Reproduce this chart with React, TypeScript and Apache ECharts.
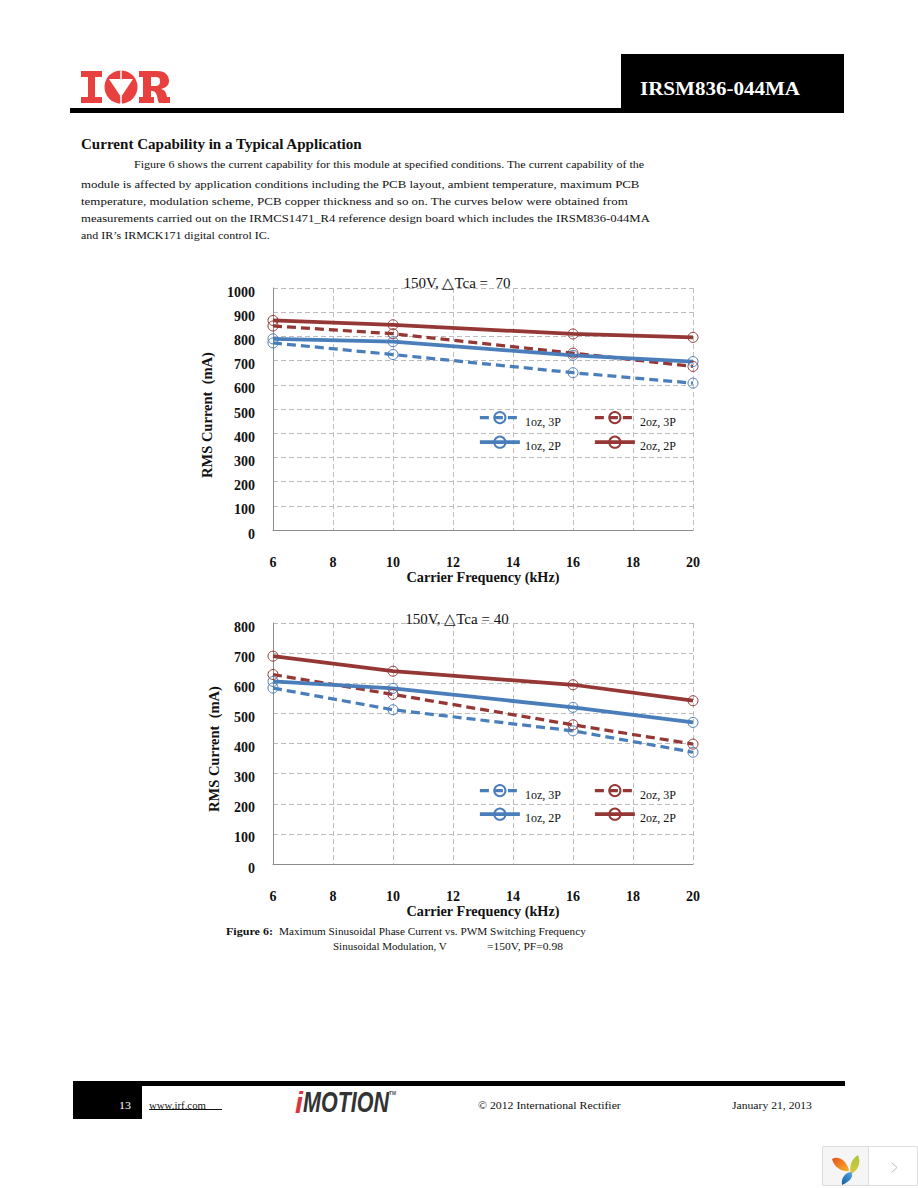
import React, { useEffect, useRef } from "react";
import * as echarts from "echarts";

const frequencies = [6, 10, 16, 20];
const seriesNames = ["1oz, 3P", "2oz, 3P", "1oz, 2P", "2oz, 2P"];

const top1oz3P = [773, 725, 650, 607];
const top2oz3P = [843, 811, 731, 676];
const top1oz2P = [790, 778, 722, 696];
const top2oz2P = [866, 848, 810, 796];

const bot1oz3P = [584, 512, 442, 371];
const bot2oz3P = [629, 563, 462, 398];
const bot1oz2P = [606, 583, 520, 470];
const bot2oz2P = [690, 640, 595, 542];

const topTitle = "150V, \u25B3Tca =  70";
const botTitle = "150V, \u25B3Tca = 40";
const xAxisName = "Carrier Frequency (kHz)";
const yAxisName = "RMS Current  (mA)";

const BLUE = "#4A7EBB";
const RED = "#953735";
const SERIF = '"Liberation Serif", serif';
const SANS = '"Liberation Sans", sans-serif';

type TextSpec = [string, number, number, number, number, boolean?];
// text, left, right, centre y, font size, bold
const pageTexts: TextSpec[] = [
  ["Current Capability in a Typical Application", 81, 363, 144, 14, true],
  ["Figure 6 shows the current capability for this module at specified conditions. The current capability of the", 134, 645, 164, 11],
  ["module is affected by application conditions including the PCB layout, ambient temperature, maximum PCB", 81, 640, 184, 11],
  ["temperature, modulation scheme, PCB copper thickness and so on. The curves below were obtained from", 81, 629, 201, 11],
  ["measurements carried out on the IRMCS1471_R4 reference design board which includes the IRSM836-044MA", 81, 651, 218, 11],
  ["and IR\u2019s IRMCK171 digital control IC.", 81, 270, 235, 11],
  ["Figure 6:", 226, 273, 931, 11, true],
  ["Maximum Sinusoidal Phase Current vs. PWM Switching Frequency", 279, 586, 931, 11],
  ["Sinusoidal Modulation, V", 333, 447, 946, 11],
  ["=150V, PF=0.98", 487, 563, 946, 11],
  ["www.irf.com", 149, 206, 1105, 11],
  ["\u00A9 2012 International Rectifier", 478, 621, 1105, 11],
  ["January 21, 2013", 732, 812, 1105, 11],
];

const LOGO_I = "M81 71H102V77H95V97H102V103H81V97H88V77H81Z";
const LOGO_R =
  "M139 71H157C166 71 169 76 169 81C169 86 165 88 161 89C165 90 166 92 167 97H170V103H159C157 100 158 92 153 91H151V97H154V103H139V97H143V77H139ZM151 77V86H155C159 86 160 84 160 81C160 78 159 77 155 77Z";
const PETAL_ORANGE = "M832 1159C838 1155 847 1160 849 1171C843 1172 834 1168 832 1159Z";
const PETAL_GREEN = "M858 1155C861 1162 859 1170 851 1174C849 1167 851 1159 858 1155Z";
const PETAL_BLUE = "M851 1172C854 1176 851 1181 842 1185C841 1179 844 1173 851 1172Z";

echarts.graphic.registerShape("logoI", echarts.graphic.extendPath(LOGO_I, {}));
echarts.graphic.registerShape("logoR", echarts.graphic.extendPath(LOGO_R, {}));
echarts.graphic.registerShape("petalOrange", echarts.graphic.extendPath(PETAL_ORANGE, {}));
echarts.graphic.registerShape("petalGreen", echarts.graphic.extendPath(PETAL_GREEN, {}));
echarts.graphic.registerShape("petalBlue", echarts.graphic.extendPath(PETAL_BLUE, {}));

function fitted(text: string, left: number, right: number, y: number, size: number, bold: boolean, opts: any = {}) {
  const family = opts.family || SERIF;
  const weight = opts.weight || (bold ? "bold" : "normal");
  const fontStyle = opts.fontStyle || "normal";
  const ctx = document.createElement("canvas").getContext("2d")!;
  ctx.font = `${fontStyle} ${weight} ${size}px ${family}`;
  const w = ctx.measureText(text).width;
  return {
    type: "text",
    x: left,
    y,
    scaleX: (right - left) / w,
    silent: true,
    style: {
      text,
      fontFamily: family,
      fontSize: size,
      fontWeight: weight,
      fontStyle,
      fill: opts.fill || "#111",
      verticalAlign: "middle",
      align: "left",
    },
  };
}

const rotatedName = (text: string, x: number, bottom: number, top: number) => ({
  ...fitted(text, x, x + (bottom - top), bottom, 14.5, true),
  x,
  y: bottom,
  rotation: Math.PI / 2,
});

const rect = (x: number, y: number, width: number, height: number, fill: string, extra: any = {}) => ({
  type: "rect",
  shape: { x, y, width, height },
  silent: true,
  style: { fill, ...extra },
});

function pageGraphics() {
  const red = "#E8403F";
  return [
    rect(621, 54, 223, 56, "#000"),
    rect(70, 108, 774, 5, "#000"),
    { type: "logoI", silent: true, style: { fill: red } },
    { type: "circle", silent: true, shape: { cx: 121, cy: 87, r: 16.5 }, style: { fill: red } },
    { type: "polygon", silent: true, shape: { points: [[109, 79], [133, 79], [121, 97]] }, style: { fill: "#fff" } },
    { type: "line", silent: true, shape: { x1: 121, y1: 70, x2: 121, y2: 79 }, style: { stroke: "#fff", lineWidth: 1.5 } },
    { type: "line", silent: true, shape: { x1: 121, y1: 96, x2: 121, y2: 104 }, style: { stroke: "#fff", lineWidth: 1.5 } },
    { type: "logoR", silent: true, style: { fill: red } },
    fitted("IRSM836-044MA", 640, 800, 88, 19, true, { fill: "#fff" }),
    ...pageTexts.map(([t, l, r, y, s, b]) => fitted(t, l, r, y, s, !!b)),
    rotatedName(yAxisName, 207, 478, 352),
    rotatedName(yAxisName, 214, 812, 686),
    rect(73, 1081, 772, 5, "#000"),
    rect(73, 1081, 69, 38, "#000"),
    fitted("13", 119, 131, 1105, 11, false, { fill: "#fff" }),
    { type: "line", silent: true, shape: { x1: 149, y1: 1109.5, x2: 222, y2: 1109.5 }, style: { stroke: "#111", lineWidth: 1 } },
    fitted("i", 295, 303, 1102, 30, true, { family: SANS, fontStyle: "italic", fill: "#D9363E" }),
    fitted("MOTION", 303, 389, 1102, 30, true, { family: SANS, fontStyle: "italic", fill: "#333" }),
    fitted("TM", 389, 396, 1093, 6, true, { family: SANS, fill: "#555" }),
    rect(822.5, 1146.5, 95, 39, "#fff", { stroke: "#ddd", lineWidth: 1 }),
    rect(823, 1147, 45, 38, "#F5F5F5"),
    { type: "line", silent: true, shape: { x1: 868.5, y1: 1146, x2: 868.5, y2: 1185 }, style: { stroke: "#ddd", lineWidth: 1 } },
    {
      type: "petalOrange", silent: true,
      style: { fill: new echarts.graphic.LinearGradient(0, 0, 1, 1, [{ offset: 0, color: "#E8501E" }, { offset: 1, color: "#F7B32B" }]) },
    },
    {
      type: "petalGreen", silent: true,
      style: { fill: new echarts.graphic.LinearGradient(0, 0, 0, 1, [{ offset: 0, color: "#A8C63C" }, { offset: 1, color: "#D9C93C" }]) },
    },
    {
      type: "petalBlue", silent: true,
      style: { fill: new echarts.graphic.LinearGradient(1, 0, 0, 1, [{ offset: 0, color: "#5AA5DE" }, { offset: 1, color: "#0E5FA8" }]) },
    },
    { type: "polyline", silent: true, shape: { points: [[892, 1163], [897, 1167.5], [892, 1172]] }, style: { stroke: "#BBB", lineWidth: 1, fill: "none" } },
  ];
}

const pairs = (ys: number[]) => frequencies.map((f, i) => [f, ys[i]]);

function lineSeries(name: string, ys: number[], gridIndex: number) {
  const color = name.startsWith("1oz") ? BLUE : RED;
  const dashed = name.endsWith("3P");
  return {
    type: "line",
    name,
    xAxisIndex: gridIndex,
    yAxisIndex: gridIndex,
    data: pairs(ys),
    symbol: "circle",
    symbolSize: 10,
    showSymbol: true,
    z: 3,
    itemStyle: { color: "rgba(255,255,255,0)", borderColor: color, borderWidth: 1 },
    lineStyle: { color, width: dashed ? 3.25 : 3.75, type: dashed ? [9, 5] : "solid" },
    emphasis: { disabled: true },
  };
}

function xAxis(gridIndex: number) {
  return {
    type: "value",
    gridIndex,
    min: 6,
    max: 20,
    interval: 2,
    name: xAxisName,
    nameLocation: "middle",
    nameGap: 34,
    nameTextStyle: { fontFamily: SERIF, fontWeight: "bold", fontSize: 14.25, color: "#111" },
    axisTick: { show: false },
    axisLine: { show: true, lineStyle: { color: "#8C8C8C", width: 1 } },
    axisLabel: { margin: 25, fontFamily: SERIF, fontWeight: "bold", fontSize: 14, color: "#111" },
    splitLine: { show: true, lineStyle: { color: "#BDBDBD", type: [5, 3], width: 1 } },
  };
}

function yAxis(gridIndex: number, max: number) {
  return {
    type: "value",
    gridIndex,
    min: 0,
    max,
    interval: 100,
    axisTick: { show: false },
    axisLine: { show: true, lineStyle: { color: "#8C8C8C", width: 1 } },
    axisLabel: {
      margin: 18,
      formatter: (v: number) => String(v),
      verticalAlign: "top",
      lineHeight: 8,
      fontFamily: SERIF,
      fontWeight: "bold",
      fontSize: 14,
      color: "#111",
    },
    splitLine: { show: true, lineStyle: { color: "#BDBDBD", type: [5, 3], width: 1 } },
  };
}

function legend(names: string[], left: number, top: number, gap: number) {
  return {
    orient: "vertical",
    left,
    top,
    data: names,
    selectedMode: false,
    itemWidth: 40,
    itemHeight: 14,
    itemGap: gap,
    lineStyle: { width: "inherit" },
    formatter: "{a|{name}}",
    textStyle: {
      fontFamily: SERIF,
      fontSize: 12,
      color: "#111",
      rich: { a: { fontFamily: SERIF, fontSize: 12, color: "#111", padding: [8, 0, 0, 0] } },
    },
  };
}

export default function App() {
  const ref = useRef<HTMLDivElement>(null);
  useEffect(() => {
    document.body.style.margin = "0";
    const chart = echarts.init(ref.current!, undefined, { renderer: "svg" });
    chart.setOption({
      animation: false,
      backgroundColor: "#fff",
      title: [
        { text: topTitle, left: 452, top: 278, textAlign: "center", textVerticalAlign: "middle", textStyle: { fontFamily: SERIF, fontWeight: "normal", fontSize: 15, color: "#111" } },
        { text: botTitle, left: 452, top: 614, textAlign: "center", textVerticalAlign: "middle", textStyle: { fontFamily: SERIF, fontWeight: "normal", fontSize: 15, color: "#111" } },
      ],
      grid: [
        { left: 273, top: 288, width: 420, height: 242 },
        { left: 273, top: 623, width: 420, height: 241 },
      ],
      xAxis: [xAxis(0), xAxis(1)],
      yAxis: [yAxis(0, 1000), yAxis(1, 800)],
      legend: [
        legend(["1oz, 3P", "1oz, 2P"], 473, 406, 8),
        legend(["2oz, 3P", "2oz, 2P"], 588, 406, 8),
        legend(["1oz, 3P", "1oz, 2P"], 473, 779, 7),
        legend(["2oz, 3P", "2oz, 2P"], 588, 779, 7),
      ],
      series: [
        lineSeries(seriesNames[0], top1oz3P, 0),
        lineSeries(seriesNames[1], top2oz3P, 0),
        lineSeries(seriesNames[2], top1oz2P, 0),
        lineSeries(seriesNames[3], top2oz2P, 0),
        lineSeries(seriesNames[0], bot1oz3P, 1),
        lineSeries(seriesNames[1], bot2oz3P, 1),
        lineSeries(seriesNames[2], bot1oz2P, 1),
        lineSeries(seriesNames[3], bot2oz2P, 1),
      ],
      graphic: { elements: pageGraphics() },
    });
    return () => chart.dispose();
  }, []);
  return <div ref={ref} style={{ width: 918, height: 1188, position: "absolute", left: 0, top: 0 }} />;
}
